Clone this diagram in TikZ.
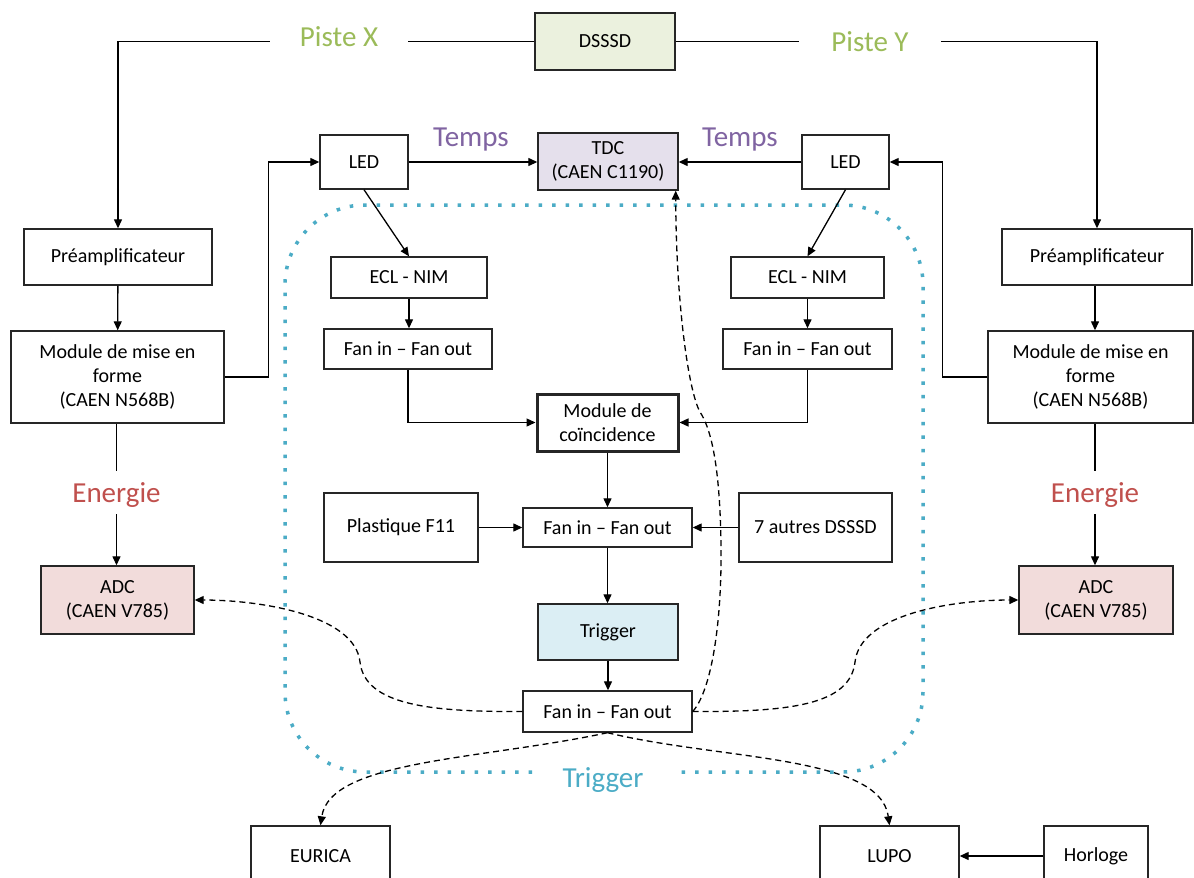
\documentclass[tikz,border=0pt]{standalone}
\usepackage{fontspec}
\setmainfont{Carlito}
\usetikzlibrary{arrows.meta}
\definecolor{cgreen}{HTML}{9BBB59}
\definecolor{cpurple}{HTML}{8064A2}
\definecolor{cred}{HTML}{C0504D}
\definecolor{cblue}{HTML}{4BACC6}
\definecolor{fgreen}{HTML}{EBF1DE}
\definecolor{fpurple}{HTML}{E5E0EC}
\definecolor{fred}{HTML}{F2DCDB}
\definecolor{fblue}{HTML}{DBEEF4}
\begin{document}
\begin{tikzpicture}[x=1pt,y=-1pt,
  box/.style={draw=black!85, line width=1.4pt, inner sep=0pt, align=center, font=\fontsize{20}{24}\selectfont},
  lab/.style={inner sep=0pt, font=\fontsize{29}{30}\selectfont, text height=19pt, text depth=0pt},
  arr/.style={-{Triangle[length=9pt,width=8pt]}, line width=1.3pt},
  ln/.style={line width=1.3pt},
  dsh/.style={dash pattern=on 6pt off 4pt, line width=1.3pt, -{Triangle[length=9pt,width=8pt]}},
]
\useasboundingbox (0,0) rectangle (1194,878);
\fill[white] (0,0) rectangle (1194,878);

% dotted trigger zone
\draw[cblue, line width=3.5pt, dash pattern=on 3.5pt off 10pt, rounded corners=80pt]
  (532,772) -- (285,772) -- (285,205) -- (923,205) -- (923,772) -- (681,772);

% nodes
\node[box, fill=fgreen, minimum width=140pt, minimum height=57pt] (dsssd) at (605,41.5) {DSSSD};
\node[box, minimum width=88pt, minimum height=54pt] (ledL) at (364,162) {LED};
\node[box, fill=fpurple, minimum width=140pt, minimum height=57pt] (tdc) at (608,161.5) {TDC\\(CAEN C1190)};
\node[box, minimum width=87pt, minimum height=54pt] (ledR) at (845.5,162) {LED};
\node[box, minimum width=188pt, minimum height=56pt] (preL) at (118,257) {Préamplificateur};
\node[box, minimum width=190pt, minimum height=56pt] (preR) at (1097,257) {Préamplificateur};
\node[box, minimum width=213pt, minimum height=92pt] (modL) at (117.5,377) {Module de mise en\\forme\\(CAEN N568B)};
\node[box, minimum width=205pt, minimum height=92pt] (modR) at (1090.5,377) {Module de mise en\\forme\\(CAEN N568B)};
\node[box, minimum width=156pt, minimum height=41pt] (ecL) at (409,277.5) {ECL - NIM};
\node[box, minimum width=168pt, minimum height=40pt] (fanL) at (408,349) {Fan in -- Fan out};
\node[box, minimum width=153pt, minimum height=41pt] (ecR) at (807.5,277.5) {ECL - NIM};
\node[box, minimum width=169pt, minimum height=40pt] (fanR) at (807.5,349) {Fan in -- Fan out};
\node[box, line width=3pt, minimum width=141pt, minimum height=57pt] (coinc) at (607.5,422.5) {Module de\\coïncidence};
\node[box, minimum width=169pt, minimum height=39pt] (fanM) at (607.5,527.5) {Fan in -- Fan out};
\node[box, minimum width=154pt, minimum height=69pt] (plast) at (401,527.5) {Plastique F11};
\node[box, minimum width=153pt, minimum height=69pt] (autres) at (815.5,527.5) {7 autres DSSSD};
\node[box, fill=fblue, minimum width=140pt, minimum height=56pt] (trig) at (608,632) {Trigger};
\node[box, minimum width=169pt, minimum height=41pt] (fanB) at (607.5,711.5) {Fan in -- Fan out};
\node[box, fill=fred, minimum width=153pt, minimum height=68pt] (adcL) at (117.5,600) {ADC\\(CAEN V785)};
\node[box, fill=fred, minimum width=154pt, minimum height=68pt] (adcR) at (1096,600) {ADC\\(CAEN V785)};
\node[box, minimum width=139pt, minimum height=60pt] (eurica) at (320.5,856) {EURICA};
\node[box, minimum width=139pt, minimum height=60pt] (lupo) at (889.5,856) {LUPO};
\node[box, minimum width=104pt, minimum height=60pt] (horloge) at (1096,856) {Horloge};

% labels
\node[lab, text=cgreen, inner xsep=30pt] (pisteX) at (339,37) {Piste X};
\node[lab, text=cgreen, inner xsep=32pt] (pisteY) at (870,42) {Piste Y};
\node[lab, text=cpurple] (tempsL) at (471,136.5) {Temps};
\node[lab, text=cpurple] (tempsR) at (740,136.5) {Temps};
\node[lab, text=cred, minimum height=43pt] (enL) at (116.5,492.5) {Energie};
\node[lab, text=cred, minimum height=43pt] (enR) at (1095,492.5) {Energie};
\node[lab, text=cblue] (trigLab) at (603,777.5) {Trigger};

% connectors
\draw[ln] (dsssd.west) -- (dsssd.west -| pisteX.east);
\draw[arr] (dsssd.west -| pisteX.west) -| (preL.north);
\draw[ln] (dsssd.east) -- (dsssd.east -| pisteY.west);
\draw[arr] (dsssd.east -| pisteY.east) -| (preR.north);
\draw[arr] (preL) -- (modL);
\draw[arr] (preR.south -| enR) -- (modR.north -| enR);
\draw[arr] (modL.east) -- ++(44,0) |- (ledL.west);
\draw[arr] (modR.west) -- ++(-45,0) |- (ledR.east);
\draw[arr] (ledL.east) -- (tdc.west |- ledL.east);
\draw[arr] (ledR.west) -- (tdc.east |- ledR.west);
\draw[arr] (ledL.south) -- (ecL.north);
\draw[arr] (ledR.south) -- (ecR.north);
\draw[arr] (ecL.south) -- (ecL.south |- fanL.north);
\draw[arr] (ecR.south) -- (ecR.south |- fanR.north);
\draw[arr] (fanL.south) |- (coinc.west);
\draw[arr] (fanR.south) |- (coinc.east);
\draw[arr] (coinc.south) -- (coinc.south |- fanM.north);
\draw[arr] (plast.east) -- (fanM.west);
\draw[arr] (autres.west) -- (fanM.east);
\draw[arr] (fanM.south) -- (fanM.south |- trig.north);
\draw[arr] (trig.south) -- (trig.south |- fanB.north);
\draw[ln] (modL.south -| enL) -- (enL.north);
\draw[arr] (enL.south) -- (enL.south |- adcL.north);
\draw[ln] (modR.south -| enR) -- (enR.north);
\draw[arr] (enR.south) -- (enR.south |- adcR.north);
\draw[arr] (horloge.west) -- (lupo.east);

% dashed trigger distribution
\draw[dsh] (fanB.west) .. controls (430,712) and (365,705) .. (360,662)
  .. controls (355,615) and (260,600) .. (adcL.east);
\draw[dsh] (fanB.east) .. controls (790,712) and (850,705) .. (855,662)
  .. controls (860,615) and (950,600) .. (adcR.west);
\draw[dsh] (fanB.east) .. controls (712,690) and (722,620) .. (721,545)
  .. controls (720,470) and (712,430) .. (700,412)
  .. controls (688,390) and (676,300) .. ([xshift=-3pt]tdc.south east);
\draw[dsh] (fanB.south) .. controls (480,760) and (330,760) .. (eurica.north);
\draw[dsh] (fanB.south) .. controls (720,760) and (880,755) .. (lupo.north);
\end{tikzpicture}
\end{document}
